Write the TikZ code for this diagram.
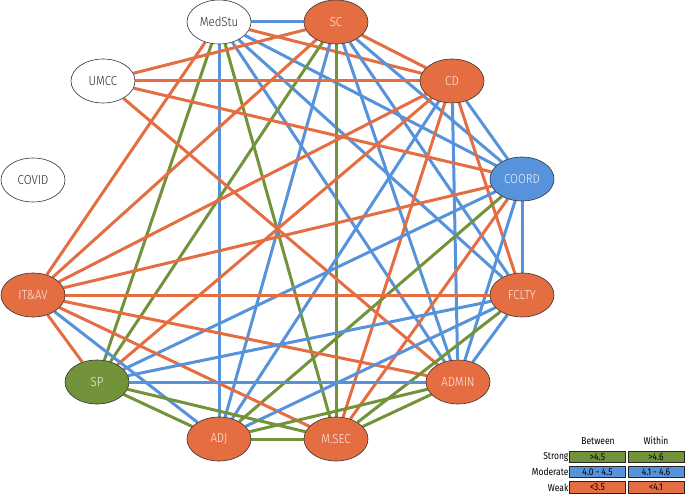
\documentclass[tikz,border=0pt]{standalone}
\usepackage{fontspec}
\setmainfont{Fira Sans}[UprightFont=* Light, FakeStretch=0.88]
\newfontfamily\lgfont{Fira Sans}[FakeStretch=0.85]
\usetikzlibrary{shapes.geometric,backgrounds}
\definecolor{cO}{HTML}{E46D42}
\definecolor{cB}{HTML}{5693DA}
\definecolor{cG}{HTML}{72933A}
\begin{document}
\begin{tikzpicture}[x=1pt,y=-1pt,
  nd/.style={ellipse, draw=black!80, line width=0.6pt, minimum width=64pt, minimum height=44pt, inner sep=0pt, font=\fontsize{13}{15}\selectfont},
  onode/.style={nd, fill=cO, text=white!88!cO},
  bnode/.style={nd, fill=cB, text=white!88!cB},
  gnode/.style={nd, fill=cG, text=white!88!cG},
  wnode/.style={nd, fill=white, text=black!85},
  eo/.style={draw=cO, line width=3pt},
  eb/.style={draw=cB, line width=3pt},
  eg/.style={draw=cG, line width=3pt},
  lgbox/.style={draw=black!85, line width=0.8pt, minimum width=56pt, minimum height=11.5pt, inner sep=0pt, font=\lgfont\fontsize{10}{11}\selectfont, text=black},
  lgtxt/.style={inner sep=0.5pt, font=\lgfont\fontsize{10}{11}\selectfont, text=black}
]
\useasboundingbox (0,0) rectangle (685,497);
% nodes
\node[wnode] (ms) at (219,22) {MedStu};
\node[onode] (sc) at (336,22) {SC};
\node[onode] (cd) at (452,81) {CD};
\node[wnode] (um) at (103,81) {UMCC};
\node[wnode] (cv) at (33,180) {COVID};
\node[bnode] (co) at (522,179) {COORD};
\node[onode] (it) at (33,295) {IT\&AV};
\node[onode] (fc) at (522,295) {FCLTY};
\node[gnode] (sp) at (97,382) {SP};
\node[onode] (ad) at (458,382) {ADMIN};
\node[onode] (adj) at (219,439) {ADJ};
\node[onode] (mse) at (336,439) {M.SEC};
% edges
\begin{scope}[on background layer]
\draw[eb] (ms) -- (sc);
\draw[eo] (ms) -- (cd);
\draw[eo] (ms) -- (it);
\draw[eg] (ms) -- (sp);
\draw[eg] (ms) -- (mse);
\draw[eb] (ms) -- (adj);
\draw[eb] (ms) -- (ad);
\draw[eb] (ms) -- (fc);
\draw[eb] (ms) -- (co);
\draw[eo] (sc) -- (um);
\draw[eo] (sc) -- (cd);
\draw[eo] (sc) -- (it);
\draw[eg] (sc) -- (sp);
\draw[eg] (sc) -- (mse);
\draw[eb] (sc) -- (adj);
\draw[eb] (sc) -- (ad);
\draw[eb] (sc) -- (fc);
\draw[eb] (sc) -- (co);
\draw[eo] (cd) -- (um);
\draw[eo] (cd) -- (it);
\draw[eo] (cd) -- (sp);
\draw[eo] (cd) -- (fc);
\draw[eo] (cd) -- (mse);
\draw[eb] (cd) -- (ad);
\draw[eb] (cd) -- (co);
\draw[eb] (cd) -- (adj);
\draw[eo] (um) -- (co);
\draw[eo] (um) -- (ad);
\draw[eo] (co) -- (it);
\draw[eo] (co) -- (mse);
\draw[eb] (co) -- (fc);
\draw[eb] (co) -- (ad);
\draw[eb] (co) -- (sp);
\draw[eg] (co) -- (adj);
\draw[eo] (it) -- (fc);
\draw[eo] (it) -- (ad);
\draw[eo] (it) -- (mse);
\draw[eb] (it) -- (adj);
\draw[eo] (it) -- (sp);
\draw[eg] (fc) -- (mse);
\draw[eb] (fc) -- (ad);
\draw[eb] (fc) -- (sp);
\draw[eb] (fc) -- (adj);
\draw[eb] (ad) -- (sp);
\draw[eg] (ad) -- (adj);
\draw[eg] (ad) -- (mse);
\draw[eg] (sp) -- (mse);
\draw[eg] (sp) -- (adj);
\draw[eg] (adj) -- (mse);
\end{scope}
% legend
\node[lgtxt] (hb) at (598,441) {Between};
\node[lgtxt] (hw) at (656,441) {Within};
\node[lgbox, fill=cG] (sb) at (597.5,457) {>4.5};
\node[lgbox, fill=cG] (sw) at (656,457) {>4.6};
\node[lgbox, fill=cB] (mb) at (597.5,472) {4.0 - 4.5};
\node[lgbox, fill=cB] (mw) at (656,472) {4.1 - 4.6};
\node[lgbox, fill=cO] (wb) at (597.5,487.5) {<3.5};
\node[lgbox, fill=cO] (ww) at (656,487.5) {<4.1};
\node[lgtxt, anchor=east] (ls) at (sb.west) {Strong};
\node[lgtxt, anchor=east] (lm) at (mb.west) {Moderate};
\node[lgtxt, anchor=east] (lw) at (wb.west) {Weak};
\end{tikzpicture}
\end{document}
